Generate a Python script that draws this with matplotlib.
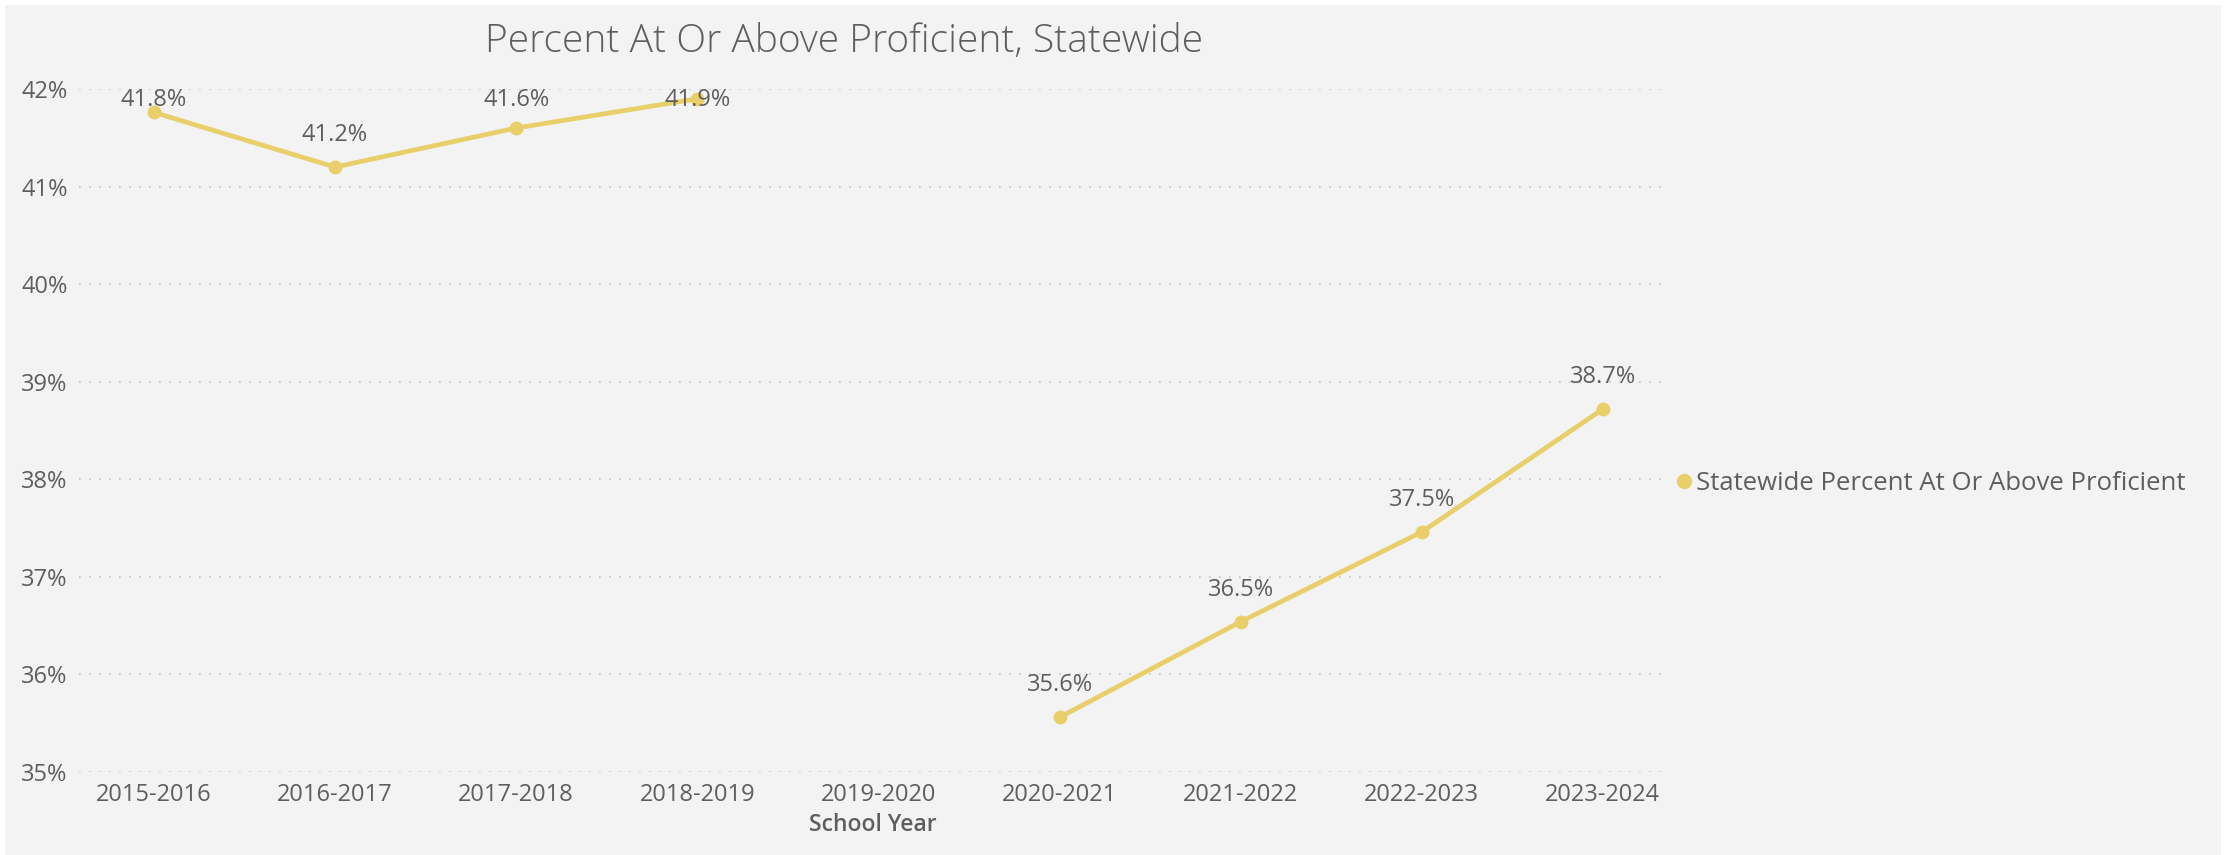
import numpy as np
import matplotlib

matplotlib.use("Agg")
import matplotlib.pyplot as plt
from matplotlib.lines import Line2D
from matplotlib.patches import Rectangle

# data (2019-2020 has no value)
school_years = ["2015-2016", "2016-2017", "2017-2018", "2018-2019", "2019-2020",
                "2020-2021", "2021-2022", "2022-2023", "2023-2024"]
pct_proficient = [41.76, 41.2, 41.6, 41.9, np.nan, 35.56, 36.54, 37.46, 38.72]
y_ticks = [35, 36, 37, 38, 39, 40, 41, 42]

title = "Percent At Or Above Proficient, Statewide"
x_title = "School Year"
series_name = "Statewide Percent At Or Above Proficient"

LINE = "#E8CF69"
TEXT = "#605E5C"
BG = "#F3F3F3"
FONT = ["Open Sans", "DejaVu Sans"]
plt.rcParams["font.family"] = FONT

fig = plt.figure(figsize=(22.35, 8.55), dpi=100, facecolor="white")
# grey card with a thin white frame (top/left/right)
fig.patches.append(Rectangle((5 / 2235, 0), (2221 - 5) / 2235, (855 - 5) / 855,
                             transform=fig.transFigure, facecolor=BG,
                             edgecolor="none", zorder=-10))

ax = fig.add_axes([0.0353, 0.0971, 0.7101, 0.7988])
ax.set_facecolor("none")
x = np.arange(len(school_years))
ax.plot(x, pct_proficient, color=LINE, lw=3.4, marker="o", ms=9,
        mec=LINE, mfc=LINE, solid_capstyle="round", zorder=3, clip_on=False)

ax.set_xlim(-0.414, 8.348)
ax.set_ylim(35, 42)
ax.set_yticks(y_ticks)
ax.set_yticklabels([f"{t}%" for t in y_ticks])
ax.set_xticks(x)
ax.set_xticklabels(school_years)
ax.tick_params(axis="both", length=0, labelsize=17, labelcolor=TEXT)
ax.tick_params(axis="y", pad=8)
ax.tick_params(axis="x", pad=8)
for s in ax.spines.values():
    s.set_visible(False)
ax.grid(axis="y", color="#C4C4C4", lw=1.2, ls=(0, (1, 5)))
ax.set_axisbelow(True)

# data labels above points, held inside the top of the plot
for xi, v in zip(x, pct_proficient):
    if np.isnan(v):
        continue
    ly = min(v + 0.33, 41.89)
    ax.text(xi, ly, f"{v:.1f}%", ha="center", va="center", fontsize=17,
            color=TEXT, zorder=4, clip_on=False)

ax.set_xlabel(x_title, fontsize=16.5, color=TEXT, fontweight="semibold", labelpad=4)

fig.text(844 / 2235, 1 - 42 / 855, title, ha="center", va="center",
         fontsize=28, color=TEXT, fontweight="light")

handle = Line2D([], [], ls="none", marker="o", ms=10, color=LINE)
ax.legend([handle], [series_name], loc="center left",
          bbox_to_anchor=(1678 / 2235, 1 - 483 / 855), bbox_transform=fig.transFigure,
          frameon=False, fontsize=18.5, labelcolor=TEXT, handlelength=0.5,
          handletextpad=0.2, borderpad=0, borderaxespad=0)

fig.savefig("out.png", dpi=100, facecolor=fig.get_facecolor())
